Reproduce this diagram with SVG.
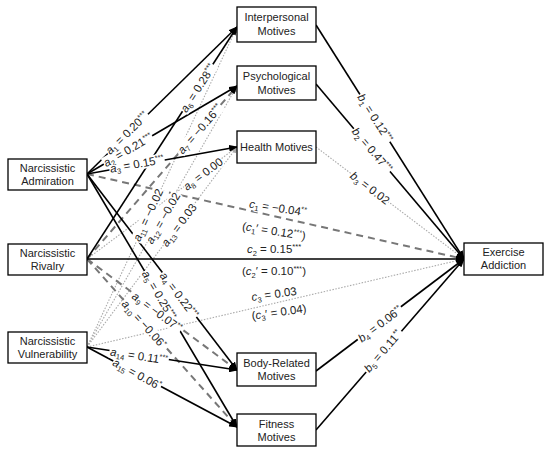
<svg xmlns="http://www.w3.org/2000/svg" width="550" height="453" viewBox="0 0 550 453">
<style>
.box{fill:#fff;stroke:#000;stroke-width:1.3}
.nt{font-family:"Liberation Sans",Arial,sans-serif;font-size:11px;fill:#222;text-anchor:middle}
.s{stroke:#000;stroke-width:1.6;fill:none}
.d{stroke:#777;stroke-width:2;stroke-dasharray:7 5;fill:none}
.o{stroke:#aaa;stroke-width:1.1;stroke-dasharray:1.5 1.5;fill:none}
.bg{fill:#fff}
.lbl{font-family:"Liberation Sans",Arial,sans-serif;font-size:11.5px;fill:#222;text-anchor:middle;stroke:#fff;stroke-width:2;stroke-linejoin:round;paint-order:stroke}
.i{font-style:italic}
.sb{font-size:7.5px}
</style>
<defs>
<marker id="ab" markerWidth="9" markerHeight="7" refX="8" refY="3.5" orient="auto" markerUnits="userSpaceOnUse"><path d="M0,0 L9,3.5 L0,7 z" fill="#000"/></marker>
<marker id="ag" markerWidth="7" markerHeight="6" refX="6" refY="3" orient="auto" markerUnits="userSpaceOnUse"><path d="M0,0 L7,3 L0,6 z" fill="#aaa"/></marker>
</defs>
<rect width="550" height="453" fill="#fff"/>
<g id="connectors">
<line class="o" x1="87" y1="259" x2="237" y2="147" marker-end="url(#ag)"/>
<line class="o" x1="87" y1="347" x2="237" y2="27" marker-end="url(#ag)"/>
<line class="o" x1="87" y1="347" x2="237" y2="86" marker-end="url(#ag)"/>
<line class="o" x1="87" y1="347" x2="237" y2="147" marker-end="url(#ag)"/>
<line class="o" x1="87" y1="347" x2="464" y2="259" marker-end="url(#ag)"/>
<line class="o" x1="316" y1="147" x2="464" y2="259" marker-end="url(#ag)"/>
<line class="d" x1="87" y1="174" x2="464" y2="259" marker-end="url(#ab)"/>
<line class="d" x1="87" y1="259" x2="237" y2="86" marker-end="url(#ab)"/>
<line class="d" x1="87" y1="259" x2="237" y2="370" marker-end="url(#ab)"/>
<line class="d" x1="87" y1="259" x2="237" y2="427" marker-end="url(#ab)"/>
<line class="s" x1="87" y1="174" x2="237" y2="27" marker-end="url(#ab)"/>
<line class="s" x1="87" y1="174" x2="237" y2="86" marker-end="url(#ab)"/>
<line class="s" x1="87" y1="174" x2="237" y2="147" marker-end="url(#ab)"/>
<line class="s" x1="87" y1="174" x2="237" y2="370" marker-end="url(#ab)"/>
<line class="s" x1="87" y1="174" x2="237" y2="427" marker-end="url(#ab)"/>
<line class="s" x1="87" y1="259" x2="237" y2="27" marker-end="url(#ab)"/>
<line class="s" x1="87" y1="347" x2="237" y2="370" marker-end="url(#ab)"/>
<line class="s" x1="87" y1="347" x2="237" y2="427" marker-end="url(#ab)"/>
<line class="s" x1="87" y1="259" x2="464" y2="259" marker-end="url(#ab)"/>
<line class="s" x1="316" y1="25" x2="464" y2="259" marker-end="url(#ab)"/>
<line class="s" x1="316" y1="84" x2="464" y2="259" marker-end="url(#ab)"/>
<line class="s" x1="316" y1="371" x2="464" y2="259" marker-end="url(#ab)"/>
<line class="s" x1="316" y1="430" x2="464" y2="259" marker-end="url(#ab)"/>
</g>
<g id="labels">
<g transform="translate(127,133) rotate(-44.6)"><rect class="bg" x="-28" y="-6" width="56" height="12"/></g>
<g transform="translate(128,150) rotate(-30.1)"><rect class="bg" x="-28" y="-6" width="56" height="12"/></g>
<g transform="translate(137,164) rotate(-10.2)"><rect class="bg" x="-28" y="-6" width="56" height="12"/></g>
<g transform="translate(179,295) rotate(52.6)"><rect class="bg" x="-28" y="-6" width="56" height="12"/></g>
<g transform="translate(159,295) rotate(59.3)"><rect class="bg" x="-28" y="-6" width="56" height="12"/></g>
<g transform="translate(198,88) rotate(-57.2)"><rect class="bg" x="-28" y="-6" width="56" height="12"/></g>
<g transform="translate(200,129) rotate(-48.9)"><rect class="bg" x="-31" y="-6" width="62" height="12"/></g>
<g transform="translate(203,174) rotate(-36.7)"><rect class="bg" x="-23" y="-6" width="46" height="12"/></g>
<g transform="translate(157,312) rotate(36.5)"><rect class="bg" x="-30" y="-6" width="60" height="12"/></g>
<g transform="translate(144,324) rotate(48.2)"><rect class="bg" x="-30" y="-6" width="60" height="12"/></g>
<g transform="translate(148,215) rotate(-65)"><rect class="bg" x="-29" y="-6" width="58" height="12"/></g>
<g transform="translate(163,218) rotate(-60)"><rect class="bg" x="-29" y="-6" width="58" height="12"/></g>
<g transform="translate(179,225) rotate(-53.1)"><rect class="bg" x="-25" y="-6" width="50" height="12"/></g>
<g transform="translate(139,356) rotate(8.7)"><rect class="bg" x="-30" y="-6" width="60" height="12"/></g>
<g transform="translate(137,374) rotate(28)"><rect class="bg" x="-27" y="-6" width="54" height="12"/></g>
<g transform="translate(278,208) rotate(9)"><rect class="bg" x="-29" y="-6" width="58" height="12"/></g>
<g transform="translate(274,231) rotate(9)"><rect class="bg" x="-32" y="-6" width="64" height="12"/></g>
<g transform="translate(274,249)"><rect class="bg" x="-28" y="-6" width="56" height="12"/></g>
<g transform="translate(274,271)"><rect class="bg" x="-32" y="-6" width="64" height="12"/></g>
<g transform="translate(274,294) rotate(-8)"><rect class="bg" x="-23" y="-6" width="46" height="12"/></g>
<g transform="translate(279,312) rotate(-8)"><rect class="bg" x="-28" y="-6" width="56" height="12"/></g>
<g transform="translate(375,118) rotate(57.6)"><rect class="bg" x="-28" y="-6" width="56" height="12"/></g>
<g transform="translate(372,150) rotate(49.8)"><rect class="bg" x="-28" y="-6" width="56" height="12"/></g>
<g transform="translate(370,188) rotate(37.1)"><rect class="bg" x="-23" y="-6" width="46" height="12"/></g>
<g transform="translate(380,324) rotate(-36.9)"><rect class="bg" x="-27" y="-6" width="54" height="12"/></g>
<g transform="translate(383,351) rotate(-49.1)"><rect class="bg" x="-27" y="-6" width="54" height="12"/></g>
<text class="lbl" transform="translate(127,133) rotate(-44.6)" y="4"><tspan class="i">a</tspan><tspan class="sb" dy="2.5">1</tspan><tspan dy="-2.5"> = 0.20</tspan><tspan class="sb" dy="-4">***</tspan></text>
<text class="lbl" transform="translate(128,150) rotate(-30.1)" y="4"><tspan class="i">a</tspan><tspan class="sb" dy="2.5">2</tspan><tspan dy="-2.5"> = 0.21</tspan><tspan class="sb" dy="-4">***</tspan></text>
<text class="lbl" transform="translate(137,164) rotate(-10.2)" y="4"><tspan class="i">a</tspan><tspan class="sb" dy="2.5">3</tspan><tspan dy="-2.5"> = 0.15</tspan><tspan class="sb" dy="-4">***</tspan></text>
<text class="lbl" transform="translate(179,295) rotate(52.6)" y="4"><tspan class="i">a</tspan><tspan class="sb" dy="2.5">4</tspan><tspan dy="-2.5"> = 0.22</tspan><tspan class="sb" dy="-4">***</tspan></text>
<text class="lbl" transform="translate(159,295) rotate(59.3)" y="4"><tspan class="i">a</tspan><tspan class="sb" dy="2.5">5</tspan><tspan dy="-2.5"> = 0.25</tspan><tspan class="sb" dy="-4">***</tspan></text>
<text class="lbl" transform="translate(198,88) rotate(-57.2)" y="4"><tspan class="i">a</tspan><tspan class="sb" dy="2.5">6</tspan><tspan dy="-2.5"> = 0.28</tspan><tspan class="sb" dy="-4">***</tspan></text>
<text class="lbl" transform="translate(200,129) rotate(-48.9)" y="4"><tspan class="i">a</tspan><tspan class="sb" dy="2.5">7</tspan><tspan dy="-2.5"> = −0.16</tspan><tspan class="sb" dy="-4">***</tspan></text>
<text class="lbl" transform="translate(203,174) rotate(-36.7)" y="4"><tspan class="i">a</tspan><tspan class="sb" dy="2.5">8</tspan><tspan dy="-2.5"> = 0.00</tspan></text>
<text class="lbl" transform="translate(157,312) rotate(36.5)" y="4"><tspan class="i">a</tspan><tspan class="sb" dy="2.5">9</tspan><tspan dy="-2.5"> = −0.07</tspan><tspan class="sb" dy="-4">**</tspan></text>
<text class="lbl" transform="translate(144,324) rotate(48.2)" y="4"><tspan class="i">a</tspan><tspan class="sb" dy="2.5">10</tspan><tspan dy="-2.5"> = −0.06</tspan><tspan class="sb" dy="-4">*</tspan></text>
<text class="lbl" transform="translate(148,215) rotate(-65)" y="4"><tspan class="i">a</tspan><tspan class="sb" dy="2.5">11</tspan><tspan dy="-2.5"> = −0.02</tspan></text>
<text class="lbl" transform="translate(163,218) rotate(-60)" y="4"><tspan class="i">a</tspan><tspan class="sb" dy="2.5">12</tspan><tspan dy="-2.5"> = −0.02</tspan></text>
<text class="lbl" transform="translate(179,225) rotate(-53.1)" y="4"><tspan class="i">a</tspan><tspan class="sb" dy="2.5">13</tspan><tspan dy="-2.5"> = 0.03</tspan></text>
<text class="lbl" transform="translate(139,356) rotate(8.7)" y="4"><tspan class="i">a</tspan><tspan class="sb" dy="2.5">14</tspan><tspan dy="-2.5"> = 0.11</tspan><tspan class="sb" dy="-4">***</tspan></text>
<text class="lbl" transform="translate(137,374) rotate(28)" y="4"><tspan class="i">a</tspan><tspan class="sb" dy="2.5">15</tspan><tspan dy="-2.5"> = 0.06</tspan><tspan class="sb" dy="-4">*</tspan></text>
<text class="lbl" transform="translate(278,208) rotate(9)" y="4"><tspan class="i">c</tspan><tspan class="sb" dy="2.5">1</tspan><tspan dy="-2.5"> = −0.04</tspan><tspan class="sb" dy="-4">**</tspan></text>
<text class="lbl" transform="translate(274,231) rotate(9)" y="4">(<tspan class="i">c</tspan><tspan class="sb" dy="2.5">1</tspan><tspan dy="-2.5">′ = 0.12</tspan><tspan class="sb" dy="-4">***</tspan><tspan dy="4">)</tspan></text>
<text class="lbl" transform="translate(274,249)" y="4"><tspan class="i">c</tspan><tspan class="sb" dy="2.5">2</tspan><tspan dy="-2.5"> = 0.15</tspan><tspan class="sb" dy="-4">***</tspan></text>
<text class="lbl" transform="translate(274,271)" y="4">(<tspan class="i">c</tspan><tspan class="sb" dy="2.5">2</tspan><tspan dy="-2.5">′ = 0.10</tspan><tspan class="sb" dy="-4">***</tspan><tspan dy="4">)</tspan></text>
<text class="lbl" transform="translate(274,294) rotate(-8)" y="4"><tspan class="i">c</tspan><tspan class="sb" dy="2.5">3</tspan><tspan dy="-2.5"> = 0.03</tspan></text>
<text class="lbl" transform="translate(279,312) rotate(-8)" y="4">(<tspan class="i">c</tspan><tspan class="sb" dy="2.5">3</tspan><tspan dy="-2.5">′ = 0.04)</tspan></text>
<text class="lbl" transform="translate(375,118) rotate(57.6)" y="4"><tspan class="i">b</tspan><tspan class="sb" dy="2.5">1</tspan><tspan dy="-2.5"> = 0.12</tspan><tspan class="sb" dy="-4">***</tspan></text>
<text class="lbl" transform="translate(372,150) rotate(49.8)" y="4"><tspan class="i">b</tspan><tspan class="sb" dy="2.5">2</tspan><tspan dy="-2.5"> = 0.47</tspan><tspan class="sb" dy="-4">***</tspan></text>
<text class="lbl" transform="translate(370,188) rotate(37.1)" y="4"><tspan class="i">b</tspan><tspan class="sb" dy="2.5">3</tspan><tspan dy="-2.5"> = 0.02</tspan></text>
<text class="lbl" transform="translate(380,324) rotate(-36.9)" y="4"><tspan class="i">b</tspan><tspan class="sb" dy="2.5">4</tspan><tspan dy="-2.5"> = 0.06</tspan><tspan class="sb" dy="-4">**</tspan></text>
<text class="lbl" transform="translate(383,351) rotate(-49.1)" y="4"><tspan class="i">b</tspan><tspan class="sb" dy="2.5">5</tspan><tspan dy="-2.5"> = 0.11</tspan><tspan class="sb" dy="-4">**</tspan></text>
</g>
<g id="admiration"><rect class="box" x="8" y="159" width="79" height="31"/><text class="nt" x="47.5" y="172">Narcissistic</text><text class="nt" x="47.5" y="185">Admiration</text></g>
<g id="rivalry"><rect class="box" x="8" y="244" width="79" height="31"/><text class="nt" x="47.5" y="257">Narcissistic</text><text class="nt" x="47.5" y="270">Rivalry</text></g>
<g id="vulnerability"><rect class="box" x="8" y="332" width="79" height="31"/><text class="nt" x="47.5" y="345">Narcissistic</text><text class="nt" x="47.5" y="358">Vulnerability</text></g>
<g id="interpersonal"><rect class="box" x="237" y="7" width="79" height="35"/><text class="nt" x="276.5" y="21">Interpersonal</text><text class="nt" x="276.5" y="35">Motives</text></g>
<g id="psychological"><rect class="box" x="237" y="66" width="79" height="34"/><text class="nt" x="276.5" y="80">Psychological</text><text class="nt" x="276.5" y="94">Motives</text></g>
<g id="health"><rect class="box" x="237" y="131" width="79" height="32"/><text class="nt" x="276.5" y="151">Health Motives</text></g>
<g id="body"><rect class="box" x="237" y="353" width="79" height="33"/><text class="nt" x="276.5" y="367">Body-Related</text><text class="nt" x="276.5" y="380">Motives</text></g>
<g id="fitness"><rect class="box" x="237" y="414" width="79" height="32"/><text class="nt" x="276.5" y="428">Fitness</text><text class="nt" x="276.5" y="441">Motives</text></g>
<g id="exercise"><rect class="box" x="464" y="243" width="79" height="32"/><text class="nt" x="503.5" y="256">Exercise</text><text class="nt" x="503.5" y="269">Addiction</text></g>
</svg>
